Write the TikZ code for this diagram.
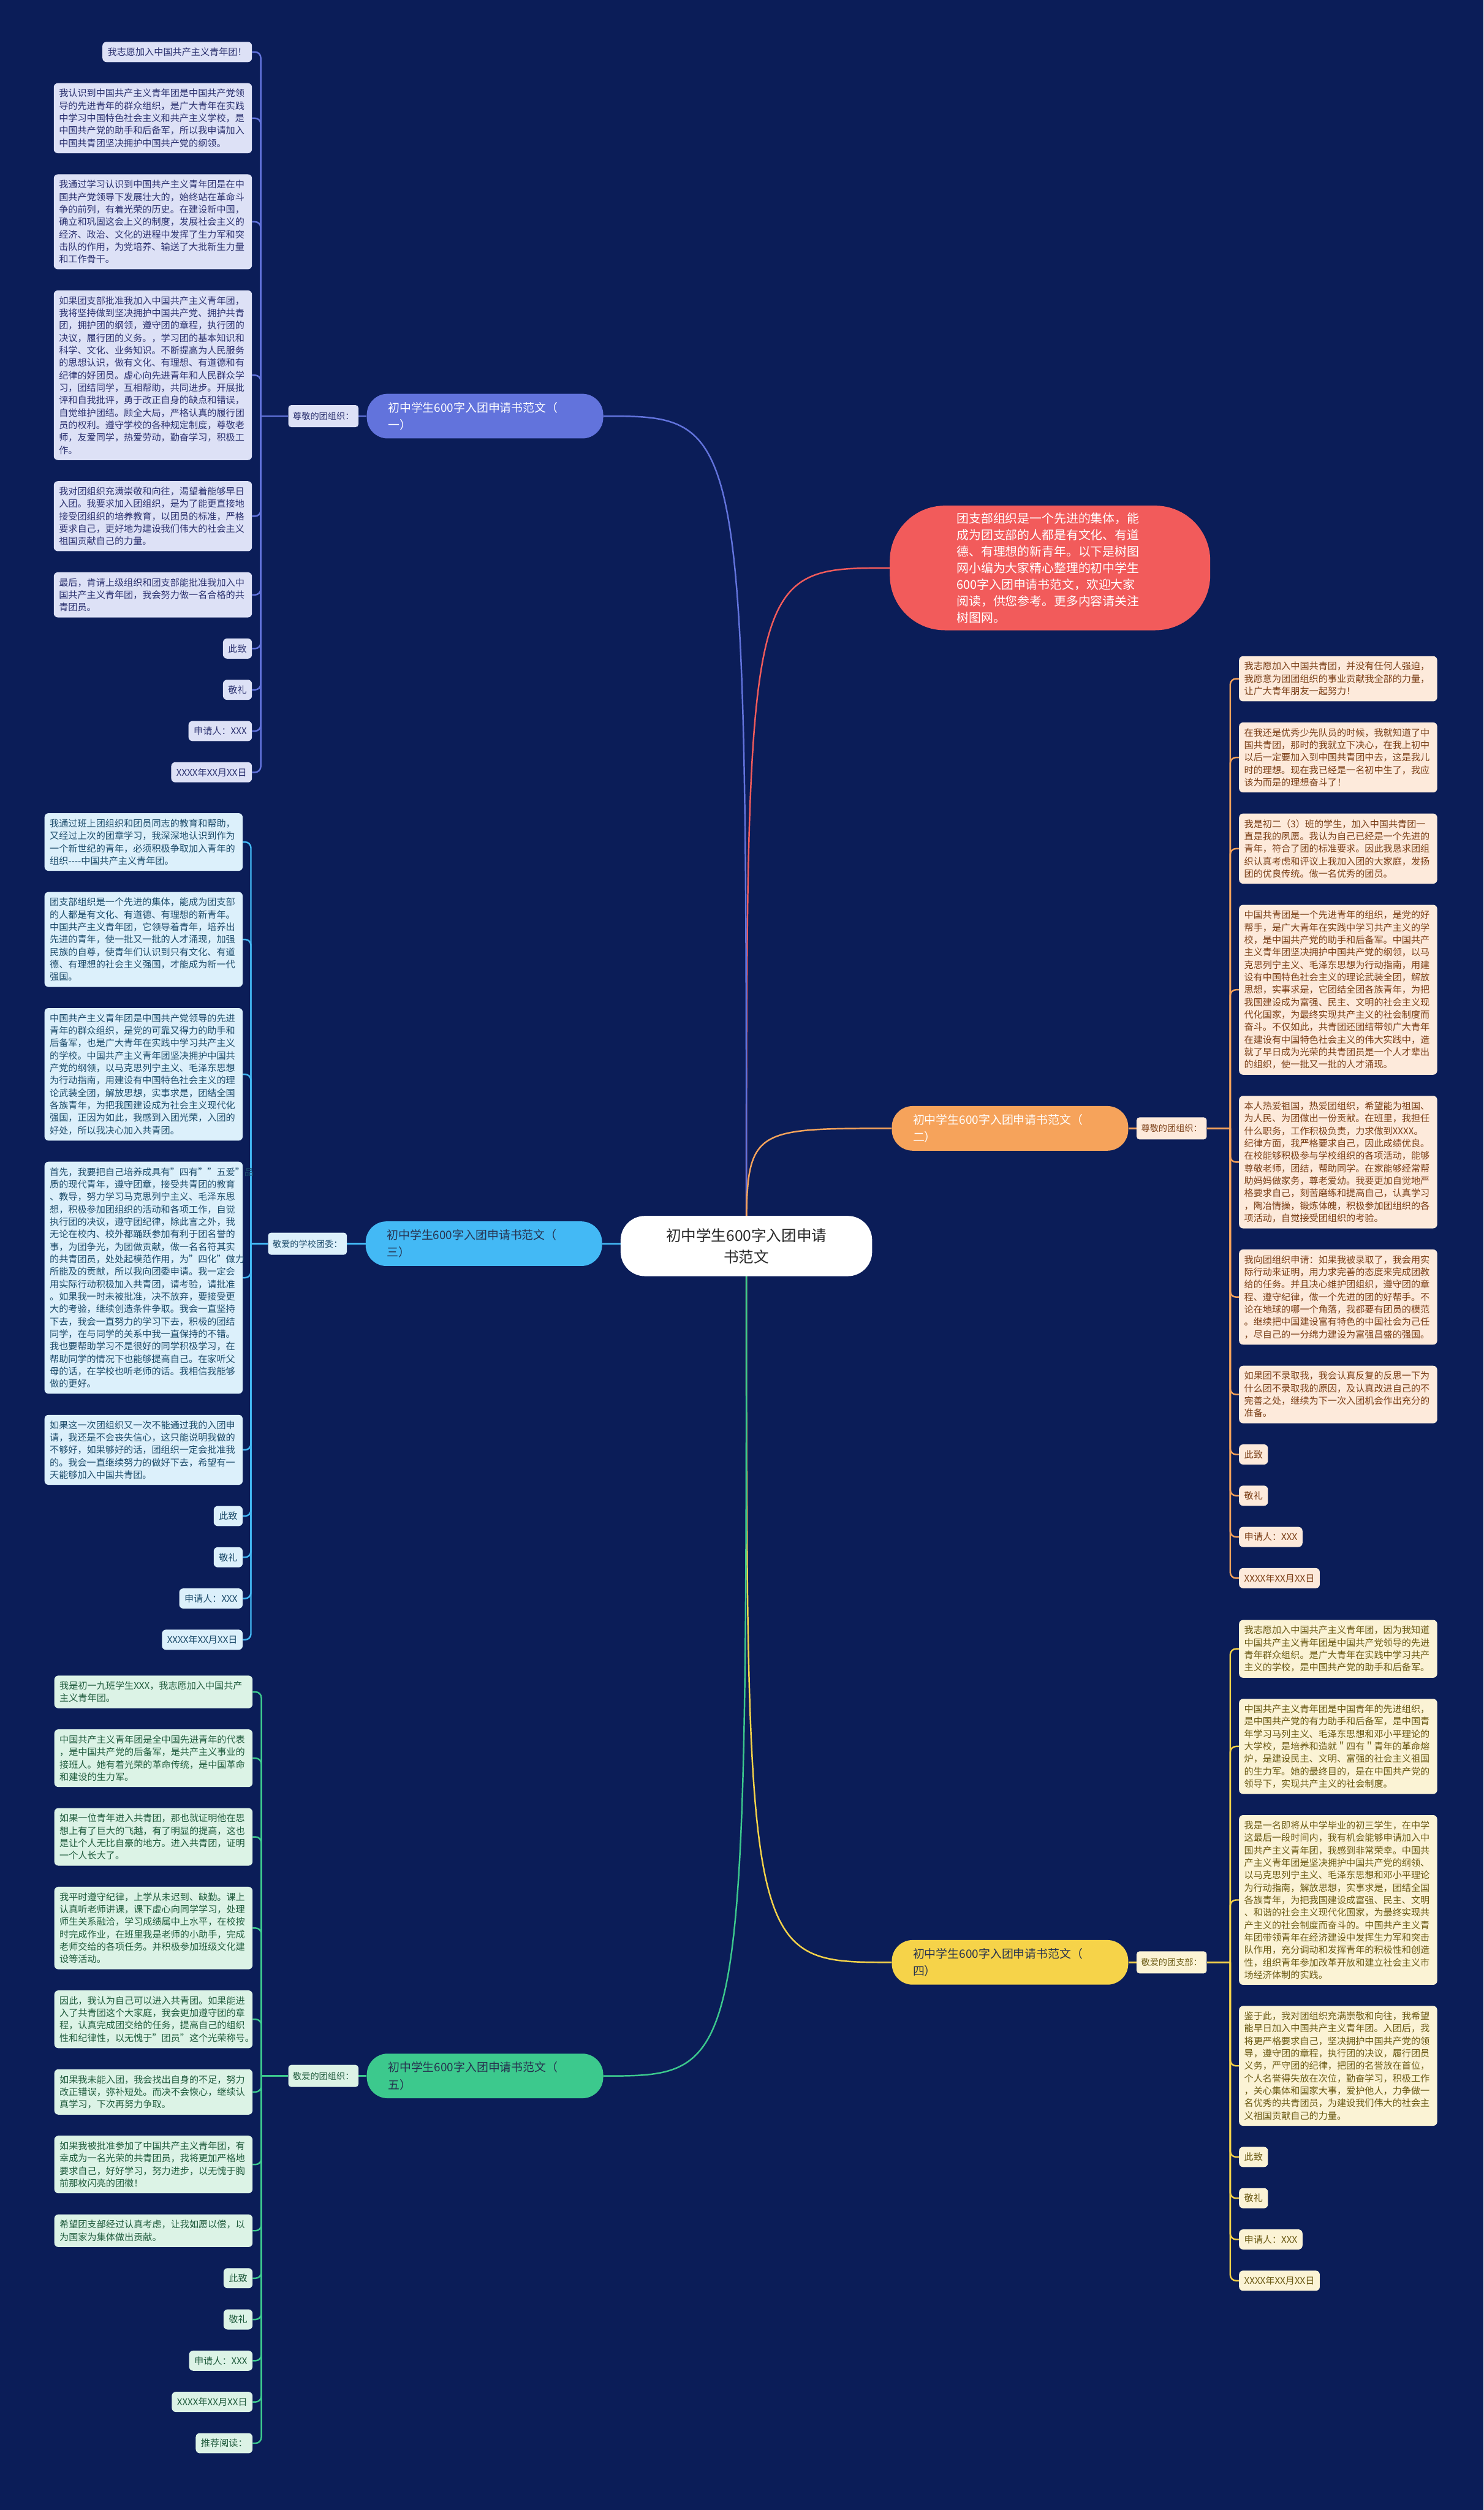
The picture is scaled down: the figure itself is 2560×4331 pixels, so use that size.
\documentclass[tikz,border=0pt]{standalone}
\usepackage{fontspec}
\setmainfont{Noto Sans CJK SC}
\usepackage{tikz}
\usetikzlibrary{positioning, backgrounds, calc}

\definecolor{cNavy}{HTML}{0B1D58}
\definecolor{cHubTx}{HTML}{2A2A2A}
\definecolor{cIntro}{HTML}{F25B5B}
\definecolor{cOne}{HTML}{6273DC}
\definecolor{cOneLt}{HTML}{DDE1F6}
\definecolor{cOneDk}{HTML}{2C3270}
\definecolor{cTwo}{HTML}{F6A35B}
\definecolor{cTwoLt}{HTML}{FDEADB}
\definecolor{cTwoDk}{HTML}{7B3F17}
\definecolor{cThree}{HTML}{43B9F5}
\definecolor{cThreeLt}{HTML}{DCF0FB}
\definecolor{cThreeDk}{HTML}{1D4C6B}
\definecolor{cFour}{HTML}{F6D349}
\definecolor{cFourLt}{HTML}{FBF3D5}
\definecolor{cFourDk}{HTML}{6B5A14}
\definecolor{cFive}{HTML}{3CC98D}
\definecolor{cFiveLt}{HTML}{DCF3E6}
\definecolor{cFiveDk}{HTML}{1F5B3C}
\definecolor{cBranchTx}{HTML}{26324F}

\tikzset{
  hub/.style={
    rectangle, rounded corners=42pt, fill=white, text=cHubTx,
    minimum width=434pt, minimum height=104pt, align=center,
    font=\fontsize{26}{37}\selectfont
  },
  intro/.style={
    rectangle, rounded corners=95pt, fill=cIntro, text=white,
    minimum width=553pt, minimum height=215pt, text width=322pt,
    align=left, font=\fontsize{21}{28.5}\selectfont
  },
  fanwen/.style={
    rectangle, rounded corners=36pt, fill=#1, text=white,
    minimum width=408pt, minimum height=77pt, text width=335pt,
    align=left, font=\fontsize{20}{30}\selectfont
  },
  greet/.style={
    rectangle, rounded corners=5pt, fill=#1, inner xsep=8pt,
    minimum height=38pt, font=\fontsize{15}{18}\selectfont
  },
  leaf/.style={
    rectangle, rounded corners=7pt, inner xsep=9pt, inner ysep=10pt,
    align=left, font=\fontsize{16}{21.5}\selectfont
  },
  wide/.style={text width=324pt},
  oneleaf/.style={leaf, fill=cOneLt, text=cOneDk},
  twoleaf/.style={leaf, fill=cTwoLt, text=cTwoDk},
  threeleaf/.style={leaf, fill=cThreeLt, text=cThreeDk},
  fourleaf/.style={leaf, fill=cFourLt, text=cFourDk},
  fiveleaf/.style={leaf, fill=cFiveLt, text=cFiveDk},
  link/.style={draw=#1, line width=2.6pt},
  twig/.style={draw=#1, line width=2.6pt, rounded corners=10pt},
}

\begin{document}
\begin{tikzpicture}[x=1pt, y=-1pt]
  \useasboundingbox (0,0) rectangle (2560,4331);

  % centre and intro
  \node[hub] (root) at (1288,2150) {初中学生600字入团申请\\书范文};
  \node[intro] (intro) at (1812,980) {团支部组织是一个先进的集体，能\\成为团支部的人都是有文化、有道\\德、有理想的新青年。以下是树图\\网小编为大家精心整理的初中学生\\600字入团申请书范文，欢迎大家\\阅读，供您参考。更多内容请关注\\树图网。};

  % the five essays
  \node[fanwen=cOne]   (fw1) at (837,718)  {初中学生600字入团申请书范文（\\一）};
  \node[fanwen=cTwo]   (fw2) at (1743,1947) {初中学生600字入团申请书范文（\\二）};
  \node[fanwen=cThree, text=cBranchTx] (fw3) at (835,2146) {初中学生600字入团申请书范文（\\三）};
  \node[fanwen=cFour, text=cBranchTx]  (fw4) at (1743,3386) {初中学生600字入团申请书范文（\\四）};
  \node[fanwen=cFive, text=cBranchTx]  (fw5) at (837,3582) {初中学生600字入团申请书范文（\\五）};

  \node[greet=cOneLt, text=cOneDk, left=14pt of fw1]       (gt1) {尊敬的团组织：};
  \node[greet=cTwoLt, text=cTwoDk, right=14pt of fw2]      (gt2) {尊敬的团组织：};
  \node[greet=cThreeLt, text=cThreeDk, left=32pt of fw3]   (gt3) {敬爱的学校团委：};
  \node[greet=cFourLt, text=cFourDk, right=14pt of fw4]    (gt4) {敬爱的团支部：};
  \node[greet=cFiveLt, text=cFiveDk, left=14pt of fw5]     (gt5) {敬爱的团组织：};

  \coordinate (j1) at (450,718);
  \coordinate (j2) at (2123,1947);
  \coordinate (j3) at (433,2146);
  \coordinate (j4) at (2123,3386);
  \coordinate (j5) at (451,3582);

  % essay one
  \node[oneleaf, anchor=north east] (a1) at (435,72) {我志愿加入中国共产主义青年团！};
  \node[oneleaf, wide, below=36pt of a1.south east, anchor=north east] (a2)
    {我认识到中国共产主义青年团是中国共产党领\\导的先进青年的群众组织，是广大青年在实践\\中学习中国特色社会主义和共产主义学校，是\\中国共产党的助手和后备军，所以我申请加入\\中国共青团坚决拥护中国共产党的纲领。};
  \node[oneleaf, wide, below=36pt of a2.south east, anchor=north east] (a3)
    {我通过学习认识到中国共产主义青年团是在中\\国共产党领导下发展壮大的，始终站在革命斗\\争的前列，有着光荣的历史。在建设新中国，\\确立和巩固这会上义的制度，发展社会主义的\\经济、政治、文化的进程中发挥了生力军和突\\击队的作用，为党培养、输送了大批新生力量\\和工作骨干。};
  \node[oneleaf, wide, below=36pt of a3.south east, anchor=north east] (a4)
    {如果团支部批准我加入中国共产主义青年团，\\我将坚持做到坚决拥护中国共产党、拥护共青\\团，拥护团的纲领，遵守团的章程，执行团的\\决议，履行团的义务。，学习团的基本知识和\\科学、文化、业务知识。不断提高为人民服务\\的思想认识，做有文化、有理想、有道德和有\\纪律的好团员。虚心向先进青年和人民群众学\\习，团结同学，互相帮助，共同进步。开展批\\评和自我批评，勇于改正自身的缺点和错误，\\自觉维护团结。顾全大局，严格认真的履行团\\员的权利。遵守学校的各种规定制度，尊敬老\\师，友爱同学，热爱劳动，勤奋学习，积极工\\作。};
  \node[oneleaf, wide, below=36pt of a4.south east, anchor=north east] (a5)
    {我对团组织充满崇敬和向往，渴望着能够早日\\入团。我要求加入团组织，是为了能更直接地\\接受团组织的培养教育，以团员的标准，严格\\要求自己，更好地为建设我们伟大的社会主义\\祖国贡献自己的力量。};
  \node[oneleaf, wide, below=36pt of a5.south east, anchor=north east] (a6)
    {最后，肯请上级组织和团支部能批准我加入中\\国共产主义青年团，我会努力做一名合格的共\\青团员。};
  \node[oneleaf, below=36pt of a6.south east, anchor=north east] (a7) {此致};
  \node[oneleaf, below=36pt of a7.south east, anchor=north east] (a8) {敬礼};
  \node[oneleaf, below=36pt of a8.south east, anchor=north east] (a9) {申请人：XXX};
  \node[oneleaf, below=36pt of a9.south east, anchor=north east] (a10) {XXXX年XX月XX日};

  % essay two
  \node[twoleaf, wide, anchor=north west] (b1) at (2138,1132)
    {我志愿加入中国共青团，并没有任何人强迫，\\我愿意为团团组织的事业贡献我全部的力量，\\让广大青年朋友一起努力！};
  \node[twoleaf, wide, below=36pt of b1.south west, anchor=north west] (b2)
    {在我还是优秀少先队员的时候，我就知道了中\\国共青团，那时的我就立下决心，在我上初中\\以后一定要加入到中国共青团中去，这是我儿\\时的理想。现在我已经是一名初中生了，我应\\该为而是的理想奋斗了！};
  \node[twoleaf, wide, below=36pt of b2.south west, anchor=north west] (b3)
    {我是初二（3）班的学生，加入中国共青团一\\直是我的夙愿。我认为自己已经是一个先进的\\青年，符合了团的标准要求。因此我恳求团组\\织认真考虑和评议上我加入团的大家庭，发扬\\团的优良传统。做一名优秀的团员。};
  \node[twoleaf, wide, below=36pt of b3.south west, anchor=north west] (b4)
    {中国共青团是一个先进青年的组织，是党的好\\帮手，是广大青年在实践中学习共产主义的学\\校，是中国共产党的助手和后备军。中国共产\\主义青年团坚决拥护中国共产党的纲领，以马\\克思列宁主义、毛泽东思想为行动指南，用建\\设有中国特色社会主义的理论武装全团，解放\\思想，实事求是，它团结全团各族青年，为把\\我国建设成为富强、民主、文明的社会主义现\\代化国家，为最终实现共产主义的社会制度而\\奋斗。不仅如此，共青团还团结带领广大青年\\在建设有中国特色社会主义的伟大实践中，造\\就了早日成为光荣的共青团员是一个人才辈出\\的组织，使一批又一批的人才涌现。};
  \node[twoleaf, wide, below=36pt of b4.south west, anchor=north west] (b5)
    {本人热爱祖国，热爱团组织，希望能为祖国、\\为人民、为团做出一份贡献。在班里，我担任\\什么职务，工作积极负责，力求做到XXXX。\\纪律方面，我严格要求自己，因此成绩优良。\\在校能够积极参与学校组织的各项活动，能够\\尊敬老师，团结，帮助同学。在家能够经常帮\\助妈妈做家务，尊老爱幼。我要更加自觉地严\\格要求自己，刻苦磨练和提高自己，认真学习\\，陶冶情操，锻炼体魄，积极参加团组织的各\\项活动，自觉接受团组织的考验。};
  \node[twoleaf, wide, below=36pt of b5.south west, anchor=north west] (b6)
    {我向团组织申请：如果我被录取了，我会用实\\际行动来证明，用力求完善的态度来完成团教\\给的任务。并且决心维护团组织，遵守团的章\\程、遵守纪律，做一个先进的团的好帮手。不\\论在地球的哪一个角落，我都要有团员的模范\\。继续把中国建设富有特色的中国社会为己任\\，尽自己的一分绵力建设为富强昌盛的强国。};
  \node[twoleaf, wide, below=36pt of b6.south west, anchor=north west] (b7)
    {如果团不录取我，我会认真反复的反思一下为\\什么团不录取我的原因，及认真改进自己的不\\完善之处，继续为下一次入团机会作出充分的\\准备。};
  \node[twoleaf, below=36pt of b7.south west, anchor=north west] (b8) {此致};
  \node[twoleaf, below=36pt of b8.south west, anchor=north west] (b9) {敬礼};
  \node[twoleaf, below=36pt of b9.south west, anchor=north west] (b10) {申请人：XXX};
  \node[twoleaf, below=36pt of b10.south west, anchor=north west] (b11) {XXXX年XX月XX日};

  % essay three
  \node[threeleaf, wide, anchor=north east] (c1) at (419,1403)
    {我通过班上团组织和团员同志的教育和帮助，\\又经过上次的团章学习，我深深地认识到作为\\一个新世纪的青年，必须积极争取加入青年的\\组织{-}{-}{-}{-}中国共产主义青年团。};
  \node[threeleaf, wide, below=36pt of c1.south east, anchor=north east] (c2)
    {团支部组织是一个先进的集体，能成为团支部\\的人都是有文化、有道德、有理想的新青年。\\中国共产主义青年团，它领导着青年，培养出\\先进的青年，使一批又一批的人才涌现，加强\\民族的自尊，使青年们认识到只有文化、有道\\德、有理想的社会主义强国，才能成为新一代\\强国。};
  \node[threeleaf, wide, below=36pt of c2.south east, anchor=north east] (c3)
    {中国共产主义青年团是中国共产党领导的先进\\青年的群众组织，是党的可靠又得力的助手和\\后备军，也是广大青年在实践中学习共产主义\\的学校。中国共产主义青年团坚决拥护中国共\\产党的纲领，以马克思列宁主义、毛泽东思想\\为行动指南，用建设有中国特色社会主义的理\\论武装全团，解放思想，实事求是，团结全国\\各族青年，为把我国建设成为社会主义现代化\\强国，正因为如此，我感到入团光荣，入团的\\好处，所以我决心加入共青团。};
  \node[threeleaf, wide, below=36pt of c3.south east, anchor=north east] (c4)
    {首先，我要把自己培养成具有"四有""五爱"品\\质的现代青年，遵守团章，接受共青团的教育\\、教导，努力学习马克思列宁主义、毛泽东思\\想，积极参加团组织的活动和各项工作，自觉\\执行团的决议，遵守团纪律，除此言之外，我\\无论在校内、校外都踊跃参加有利于团名誉的\\事，为团争光，为团做贡献，做一名名符其实\\的共青团员，处处起模范作用，为"四化"做力\\所能及的贡献，所以我向团委申请。我一定会\\用实际行动积极加入共青团，请考验，请批准\\。如果我一时未被批准，决不放弃，要接受更\\大的考验，继续创造条件争取。我会一直坚持\\下去，我会一直努力的学习下去，积极的团结\\同学，在与同学的关系中我一直保持的不错。\\我也要帮助学习不是很好的同学积极学习，在\\帮助同学的情况下也能够提高自己。在家听父\\母的话，在学校也听老师的话。我相信我能够\\做的更好。};
  \node[threeleaf, wide, below=36pt of c4.south east, anchor=north east] (c5)
    {如果这一次团组织又一次不能通过我的入团申\\请，我还是不会丧失信心，这只能说明我做的\\不够好，如果够好的话，团组织一定会批准我\\的。我会一直继续努力的做好下去，希望有一\\天能够加入中国共青团。};
  \node[threeleaf, below=36pt of c5.south east, anchor=north east] (c6) {此致};
  \node[threeleaf, below=36pt of c6.south east, anchor=north east] (c7) {敬礼};
  \node[threeleaf, below=36pt of c7.south east, anchor=north east] (c8) {申请人：XXX};
  \node[threeleaf, below=36pt of c8.south east, anchor=north east] (c9) {XXXX年XX月XX日};

  % essay four
  \node[fourleaf, wide, anchor=north west] (d1) at (2138,2795)
    {我志愿加入中国共产主义青年团，因为我知道\\中国共产主义青年团是中国共产党领导的先进\\青年群众组织。是广大青年在实践中学习共产\\主义的学校，是中国共产党的助手和后备军。};
  \node[fourleaf, wide, below=36pt of d1.south west, anchor=north west] (d2)
    {中国共产主义青年团是中国青年的先进组织，\\是中国共产党的有力助手和后备军，是中国青\\年学习马列主义、毛泽东思想和邓小平理论的\\大学校，是培养和造就＂四有＂青年的革命熔\\炉，是建设民主、文明、富强的社会主义祖国\\的生力军。她的最终目的，是在中国共产党的\\领导下，实现共产主义的社会制度。};
  \node[fourleaf, wide, below=36pt of d2.south west, anchor=north west] (d3)
    {我是一名即将从中学毕业的初三学生，在中学\\这最后一段时间内，我有机会能够申请加入中\\国共产主义青年团，我感到非常荣幸。中国共\\产主义青年团是坚决拥护中国共产党的纲领、\\以马克思列宁主义、毛泽东思想和邓小平理论\\为行动指南，解放思想，实事求是，团结全国\\各族青年，为把我国建设成富强、民主、文明\\、和谐的社会主义现代化国家，为最终实现共\\产主义的社会制度而奋斗的。中国共产主义青\\年团带领青年在经济建设中发挥生力军和突击\\队作用，充分调动和发挥青年的积极性和创造\\性，组织青年参加改革开放和建立社会主义市\\场经济体制的实践。};
  \node[fourleaf, wide, below=36pt of d3.south west, anchor=north west] (d4)
    {鉴于此，我对团组织充满崇敬和向往，我希望\\能早日加入中国共产主义青年团。入团后，我\\将更严格要求自己，坚决拥护中国共产党的领\\导，遵守团的章程，执行团的决议，履行团员\\义务，严守团的纪律，把团的名誉放在首位，\\个人名誉得失放在次位，勤奋学习，积极工作\\，关心集体和国家大事，爱护他人，力争做一\\名优秀的共青团员，为建设我们伟大的社会主\\义祖国贡献自己的力量。};
  \node[fourleaf, below=36pt of d4.south west, anchor=north west] (d5) {此致};
  \node[fourleaf, below=36pt of d5.south west, anchor=north west] (d6) {敬礼};
  \node[fourleaf, below=36pt of d6.south west, anchor=north west] (d7) {申请人：XXX};
  \node[fourleaf, below=36pt of d7.south west, anchor=north west] (d8) {XXXX年XX月XX日};

  % essay five
  \node[fiveleaf, wide, anchor=north east] (e1) at (436,2891)
    {我是初一九班学生XXX，我志愿加入中国共产\\主义青年团。};
  \node[fiveleaf, wide, below=36pt of e1.south east, anchor=north east] (e2)
    {中国共产主义青年团是全中国先进青年的代表\\，是中国共产党的后备军，是共产主义事业的\\接班人。她有着光荣的革命传统，是中国革命\\和建设的生力军。};
  \node[fiveleaf, wide, below=36pt of e2.south east, anchor=north east] (e3)
    {如果一位青年进入共青团，那也就证明他在思\\想上有了巨大的飞越，有了明显的提高，这也\\是让个人无比自豪的地方。进入共青团，证明\\一个人长大了。};
  \node[fiveleaf, wide, below=36pt of e3.south east, anchor=north east] (e4)
    {我平时遵守纪律，上学从未迟到、缺勤。课上\\认真听老师讲课，课下虚心向同学学习，处理\\师生关系融洽，学习成绩属中上水平，在校按\\时完成作业，在班里我是老师的小助手，完成\\老师交给的各项任务。并积极参加班级文化建\\设等活动。};
  \node[fiveleaf, wide, below=36pt of e4.south east, anchor=north east] (e5)
    {因此，我认为自己可以进入共青团。如果能进\\入了共青团这个大家庭，我会更加遵守团的章\\程，认真完成团交给的任务，提高自己的组织\\性和纪律性，以无愧于"团员"这个光荣称号。};
  \node[fiveleaf, wide, below=36pt of e5.south east, anchor=north east] (e6)
    {如果我未能入团，我会找出自身的不足，努力\\改正错误，弥补短处。而决不会恢心，继续认\\真学习，下次再努力争取。};
  \node[fiveleaf, wide, below=36pt of e6.south east, anchor=north east] (e7)
    {如果我被批准参加了中国共产主义青年团，有\\幸成为一名光荣的共青团员，我将更加严格地\\要求自己，好好学习，努力进步，以无愧于胸\\前那枚闪亮的团徽！};
  \node[fiveleaf, wide, below=36pt of e7.south east, anchor=north east] (e8)
    {希望团支部经过认真考虑，让我如愿以偿，以\\为国家为集体做出贡献。};
  \node[fiveleaf, below=36pt of e8.south east, anchor=north east] (e9) {此致};
  \node[fiveleaf, below=36pt of e9.south east, anchor=north east] (e10) {敬礼};
  \node[fiveleaf, below=36pt of e10.south east, anchor=north east] (e11) {申请人：XXX};
  \node[fiveleaf, below=36pt of e11.south east, anchor=north east] (e12) {XXXX年XX月XX日};
  \node[fiveleaf, below=36pt of e12.south east, anchor=north east] (e13) {推荐阅读：};

  \begin{scope}[on background layer]
    \fill[cNavy] (0,0) rectangle (2560,4331);

    \draw[link=cIntro] (root.center) .. controls (root.center |- intro.west) .. (intro.west);
    \draw[link=cOne]   (root.center) .. controls (root.center |- fw1.east) .. (fw1.east);
    \draw[link=cTwo]   (root.center) .. controls (root.center |- fw2.west) .. (fw2.west);
    \draw[link=cThree] (root.center) .. controls (root.center |- fw3.east) .. (fw3.east);
    \draw[link=cFour]  (root.center) .. controls (root.center |- fw4.west) .. (fw4.west);
    \draw[link=cFive]  (root.center) .. controls (root.center |- fw5.east) .. (fw5.east);

    \draw[link=cOne]   (fw1.west) -- (gt1.east);  \draw[link=cOne]   (gt1.west) -- (j1);
    \draw[link=cTwo]   (fw2.east) -- (gt2.west);  \draw[link=cTwo]   (gt2.east) -- (j2);
    \draw[link=cThree] (fw3.west) -- (gt3.east);  \draw[link=cThree] (gt3.west) -- (j3);
    \draw[link=cFour]  (fw4.east) -- (gt4.west);  \draw[link=cFour]  (gt4.east) -- (j4);
    \draw[link=cFive]  (fw5.west) -- (gt5.east);  \draw[link=cFive]  (gt5.west) -- (j5);

    \draw[twig=cOne] (j1) |- (a1.east);   \draw[twig=cOne] (j1) |- (a2.east);
    \draw[twig=cOne] (j1) |- (a3.east);   \draw[twig=cOne] (j1) |- (a4.east);
    \draw[twig=cOne] (j1) |- (a5.east);   \draw[twig=cOne] (j1) |- (a6.east);
    \draw[twig=cOne] (j1) |- (a7.east);   \draw[twig=cOne] (j1) |- (a8.east);
    \draw[twig=cOne] (j1) |- (a9.east);   \draw[twig=cOne] (j1) |- (a10.east);

    \draw[twig=cTwo] (j2) |- (b1.west);   \draw[twig=cTwo] (j2) |- (b2.west);
    \draw[twig=cTwo] (j2) |- (b3.west);   \draw[twig=cTwo] (j2) |- (b4.west);
    \draw[twig=cTwo] (j2) |- (b5.west);   \draw[twig=cTwo] (j2) |- (b6.west);
    \draw[twig=cTwo] (j2) |- (b7.west);   \draw[twig=cTwo] (j2) |- (b8.west);
    \draw[twig=cTwo] (j2) |- (b9.west);   \draw[twig=cTwo] (j2) |- (b10.west);
    \draw[twig=cTwo] (j2) |- (b11.west);

    \draw[twig=cThree] (j3) |- (c1.east); \draw[twig=cThree] (j3) |- (c2.east);
    \draw[twig=cThree] (j3) |- (c3.east); \draw[twig=cThree] (j3) |- (c4.east);
    \draw[twig=cThree] (j3) |- (c5.east); \draw[twig=cThree] (j3) |- (c6.east);
    \draw[twig=cThree] (j3) |- (c7.east); \draw[twig=cThree] (j3) |- (c8.east);
    \draw[twig=cThree] (j3) |- (c9.east);

    \draw[twig=cFour] (j4) |- (d1.west);  \draw[twig=cFour] (j4) |- (d2.west);
    \draw[twig=cFour] (j4) |- (d3.west);  \draw[twig=cFour] (j4) |- (d4.west);
    \draw[twig=cFour] (j4) |- (d5.west);  \draw[twig=cFour] (j4) |- (d6.west);
    \draw[twig=cFour] (j4) |- (d7.west);  \draw[twig=cFour] (j4) |- (d8.west);

    \draw[twig=cFive] (j5) |- (e1.east);  \draw[twig=cFive] (j5) |- (e2.east);
    \draw[twig=cFive] (j5) |- (e3.east);  \draw[twig=cFive] (j5) |- (e4.east);
    \draw[twig=cFive] (j5) |- (e5.east);  \draw[twig=cFive] (j5) |- (e6.east);
    \draw[twig=cFive] (j5) |- (e7.east);  \draw[twig=cFive] (j5) |- (e8.east);
    \draw[twig=cFive] (j5) |- (e9.east);  \draw[twig=cFive] (j5) |- (e10.east);
    \draw[twig=cFive] (j5) |- (e11.east); \draw[twig=cFive] (j5) |- (e12.east);
    \draw[twig=cFive] (j5) |- (e13.east);
  \end{scope}

\end{tikzpicture}
\end{document}
